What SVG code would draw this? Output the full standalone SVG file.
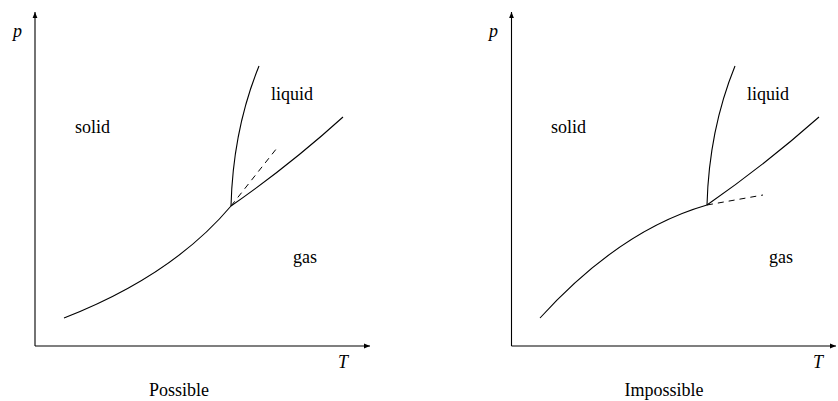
<svg xmlns="http://www.w3.org/2000/svg" width="838" height="401" viewBox="0 0 838 401">
<defs>
<marker id="ah" viewBox="0 0 10 10" refX="10" refY="5" markerWidth="8" markerHeight="6" markerUnits="userSpaceOnUse" orient="auto">
<path d="M0,1 L10,5 L0,9 z" fill="#000"/>
</marker>
</defs>
<style>
.ax{stroke:#000;stroke-width:1.1;fill:none}
.c{stroke:#000;stroke-width:1.1;fill:none}
.d{stroke:#000;stroke-width:1;fill:none;stroke-dasharray:6 5}
.t{font-family:"Liberation Serif","Times New Roman",serif;font-size:18px;fill:#000}
.it{font-style:italic}
</style>
<rect width="838" height="401" fill="#fff"/>
<g id="possible">
<g id="axes-left">
<line class="ax" x1="35" y1="346" x2="35" y2="12" marker-end="url(#ah)"/>
<line class="ax" x1="35" y1="346" x2="370" y2="346" marker-end="url(#ah)"/>
<text class="t it" x="13" y="37">p</text>
<text class="t it" x="338" y="368">T</text>
</g>
<g id="curves-left">
<path class="c" d="M64,318 Q172,276 231,206"/>
<path class="c" d="M231,206 Q233,130 259,66"/>
<path class="c" d="M231,206 Q290,165 343,117"/>
<path class="d" d="M231,206 L277,148"/>
</g>
<g id="labels-left">
<text class="t" x="75" y="133">solid</text>
<text class="t" x="271" y="100">liquid</text>
<text class="t" x="293" y="263">gas</text>
<text class="t" x="179" y="396" text-anchor="middle">Possible</text>
</g>
</g>
<g id="impossible">
<g id="axes-right">
<line class="ax" x1="511.5" y1="346" x2="511.5" y2="12" marker-end="url(#ah)"/>
<line class="ax" x1="511.5" y1="346" x2="836" y2="346" marker-end="url(#ah)"/>
<text class="t it" x="489" y="37">p</text>
<text class="t it" x="813" y="368">T</text>
</g>
<g id="curves-right">
<path class="c" d="M540,318 Q620,230 707,205"/>
<path class="c" d="M707,205 Q709,130 735,66"/>
<path class="c" d="M707,205 Q766,164 819,117"/>
<path class="d" d="M707,205 L763,195"/>
</g>
<g id="labels-right">
<text class="t" x="551" y="133">solid</text>
<text class="t" x="747" y="100">liquid</text>
<text class="t" x="769" y="263">gas</text>
<text class="t" x="664" y="396" text-anchor="middle">Impossible</text>
</g>
</g>
</svg>
